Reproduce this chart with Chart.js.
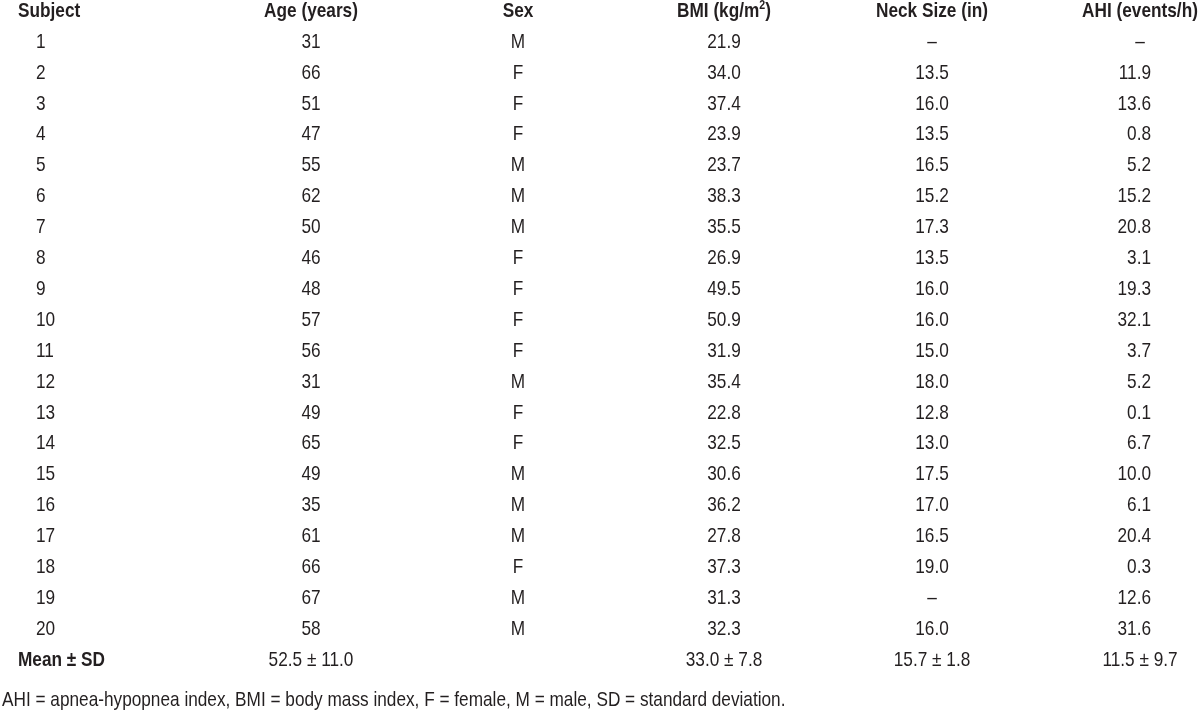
<!DOCTYPE html>
<html>
<head>
<meta charset="utf-8">
<script src="https://cdn.jsdelivr.net/npm/chart.js@4"></script>
<style>
  body { margin: 0; background: #fff; }
  canvas { display: block; }
</style>
</head>
<body>
<canvas id="table" width="1200" height="723"></canvas>
<script>
// table data
var headers = ["Subject", "Age (years)", "Sex", "BMI (kg/m", "Neck Size (in)", "AHI (events/h)"];
var subjects = [1,2,3,4,5,6,7,8,9,10,11,12,13,14,15,16,17,18,19,20];
var age = [31,66,51,47,55,62,50,46,48,57,56,31,49,65,49,35,61,66,67,58];
var sex = ["M","F","F","F","M","M","M","F","F","F","F","M","F","F","M","M","M","F","M","M"];
var bmi = [21.9,34.0,37.4,23.9,23.7,38.3,35.5,26.9,49.5,50.9,31.9,35.4,22.8,32.5,30.6,36.2,27.8,37.3,31.3,32.3];
var neck = [null,13.5,16.0,13.5,16.5,15.2,17.3,13.5,16.0,16.0,15.0,18.0,12.8,13.0,17.5,17.0,16.5,19.0,null,16.0];
var ahi = [null,11.9,13.6,0.8,5.2,15.2,20.8,3.1,19.3,32.1,3.7,5.2,0.1,6.7,10.0,6.1,20.4,0.3,12.6,31.6];
var summary = ["Mean \u00b1 SD", "52.5 \u00b1 11.0", "", "33.0 \u00b1 7.8", "15.7 \u00b1 1.8", "11.5 \u00b1 9.7"];
var footnote = "AHI = apnea-hypopnea index, BMI = body mass index, F = female, M = male, SD = standard deviation.";

// layout
var colX = [36, 311, 518, 724, 932, 1140];
var FONT = "'Liberation Sans', Arial, sans-serif";
var SIZE = 21;
var NARROW = 0.82; // squeeze to look like Arial Narrow

function fmt(v) { return v === null ? "\u2013" : v.toFixed(1); }

var columns = [
    subjects.map(String),
    age.map(String),
    sex,
    bmi.map(fmt),
    neck.map(fmt),
    ahi.map(fmt)
];

// one dataset per column: header row 0, subjects 1..20, summary row 21
var datasets = columns.map(function (col, c) {
    var pts = [{x: colX[c], y: 0, text: headers[c], kind: "head"}];
    col.forEach(function (t, i) {
        pts.push({x: colX[c], y: i + 1, text: t, kind: "cell"});
    });
    pts.push({x: colX[c], y: 21, text: summary[c], kind: "sum"});
    return {data: pts, pointRadius: 0, col: c};
});
datasets.push({data: [{x: 2, y: 22.3, text: footnote, kind: "note"}], pointRadius: 0, col: -1});

function narrowText(ctx, text, x, y, align, font) {
    ctx.save();
    ctx.font = font;
    ctx.textAlign = align;
    ctx.translate(x, y);
    ctx.scale(NARROW, 1);
    ctx.fillText(text, 0, 0);
    ctx.restore();
}

function narrowWidth(ctx, text, font) {
    ctx.font = font;
    return ctx.measureText(text).width * NARROW;
}

var textPlugin = {
    id: "cellText",
    afterDatasetsDraw: function (chart) {
        var ctx = chart.ctx;
        ctx.save();
        ctx.fillStyle = "#231f20";
        ctx.textBaseline = "middle";
        chart.data.datasets.forEach(function (ds, di) {
            var meta = chart.getDatasetMeta(di);
            meta.data.forEach(function (el, i) {
                var p = ds.data[i];
                var c = ds.col;
                var bold = p.kind === "head" || (p.kind === "sum" && c === 0);
                var font = (bold ? "bold " : "") + SIZE + "px " + FONT;
                var x = el.x;
                var align = "center";
                if (p.kind === "note") align = "left";
                else if (c === 0 && p.kind === "cell") align = "left";
                else if (c === 0) { align = "left"; x = 18; }
                else if (c === 5 && p.kind === "cell" && p.text !== "\u2013") { align = "right"; x = 1151; }
                if (p.kind === "head" && c === 3) {
                    // BMI header with superscript 2
                    var small = "bold " + Math.round(SIZE * 0.6) + "px " + FONT;
                    var w1 = narrowWidth(ctx, p.text, font);
                    var w2 = narrowWidth(ctx, "2", small);
                    var w3 = narrowWidth(ctx, ")", font);
                    var left = x - (w1 + w2 + w3) / 2;
                    narrowText(ctx, p.text, left, el.y, "left", font);
                    narrowText(ctx, "2", left + w1, el.y - 6, "left", small);
                    narrowText(ctx, ")", left + w1 + w2, el.y, "left", font);
                } else {
                    narrowText(ctx, p.text, x, el.y, align, font);
                }
            });
        });
        ctx.restore();
    }
};

var chart = new Chart(document.getElementById("table").getContext("2d"), {
    type: "scatter",
    data: {datasets: datasets},
    options: {
        responsive: false,
        animation: false,
        layout: {padding: 0},
        plugins: {legend: {display: false}, tooltip: {enabled: false}},
        scales: {
            x: {type: "linear", display: false, min: 0, max: 1200},
            y: {type: "linear", display: false, reverse: true, min: -0.359, max: 23.039}
        }
    },
    plugins: [textPlugin]
});
</script>
</body>
</html>
